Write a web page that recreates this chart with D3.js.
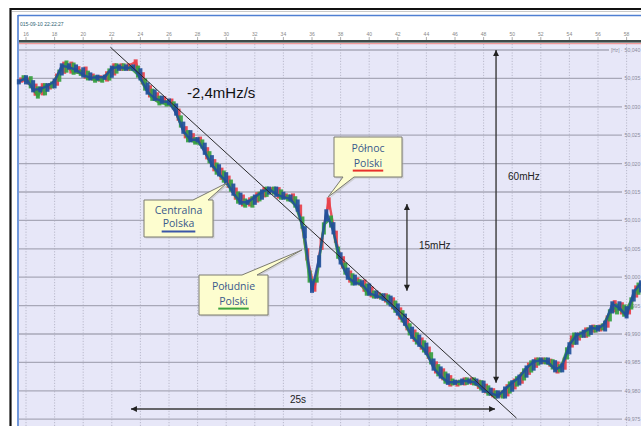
<!DOCTYPE html>
<html><head><meta charset="utf-8">
<script src="https://cdn.jsdelivr.net/npm/d3@7"></script>
<style>body{margin:0;background:#fff;overflow:hidden}svg{display:block}</style>
</head><body>
<svg id="c" width="641" height="426"></svg>
<script>
// ---------------- DATA ----------------
const dateLabel = "015-09-10 22:22:27";
const sampleStart = 15.5;   // s
const sampleStep = 0.5;     // s
const timeTicks = [16,18,20,22,24,26,28,30,32,34,36,38,40,42,44,46,48,50,52,54,56,58];
// frequency ticks as mHz deviation from 50 Hz
const freqTicks = [40,35,30,25,20,15,10,5,0,-5,-10,-15,-20,-25];
// Central Poland (blue), mHz deviation from 50 Hz
const blueSeries = [34.4,35.1,33.0,33.1,33.7,34.5,37.2,37.0,36.5,35.6,35.1,35.2,35.2,36.8,37.0,36.8,37.0,35.1,32.6,31.5,31.0,30.8,28.9,25.7,24.2,24.2,22.0,19.8,18.2,16.8,14.8,13.2,13.2,14.1,15.0,15.5,14.6,14.1,13.8,12.0,7.3,-2.3,3.4,11.5,8.0,2.7,0.0,-1.0,-1.2,-2.8,-3.3,-3.7,-4.7,-6.3,-8.1,-10.4,-11.8,-13.2,-16.0,-17.4,-18.5,-18.5,-18.3,-18.3,-18.6,-19.9,-20.4,-20.9,-19.7,-18.6,-17.6,-16.0,-14.9,-14.6,-14.9,-16.3,-15.6,-11.9,-10.2,-9.7,-8.9,-9.1,-8.1,-4.7,-5.4,-6.8,-2.6,-1.0];
// Northern Poland (red)
const redSeries = [34.7,34.4,32.4,33.7,33.5,35.4,37.5,36.3,36.7,35.4,35.1,34.9,35.8,37.2,36.8,37.2,37.9,34.4,32.1,31.4,31.0,30.5,28.0,24.9,24.3,24.0,21.2,19.1,17.6,16.2,14.1,12.9,13.6,14.5,15.4,15.4,14.3,14.3,13.6,11.1,3.4,-2.1,6.5,13.6,6.5,2.0,-0.5,-0.8,-2.1,-3.1,-3.3,-4.0,-5.2,-7.0,-8.9,-10.9,-12.3,-13.9,-16.5,-17.7,-18.8,-18.6,-18.1,-18.5,-19.2,-20.0,-20.7,-20.6,-19.3,-18.3,-17.2,-15.5,-14.6,-14.8,-15.3,-16.5,-14.6,-10.7,-10.2,-9.3,-8.8,-9.1,-7.2,-4.5,-6.1,-6.1,-1.9,-0.8];
// Southern Poland (green)
const greenSeries = [35.1,33.7,31.9,33.7,34.0,36.1,37.7,36.1,35.9,35.1,34.7,34.7,36.3,37.2,36.8,36.8,35.6,33.3,31.5,30.7,30.5,30.0,26.8,24.2,23.8,23.1,20.5,18.5,17.1,15.5,13.4,12.7,13.8,14.6,15.5,15.0,14.1,13.8,12.7,9.0,-0.5,-0.5,9.2,10.4,3.7,0.9,-1.0,-0.8,-2.8,-3.3,-3.5,-4.4,-5.8,-7.5,-9.8,-11.4,-12.8,-14.9,-17.0,-18.3,-18.6,-18.5,-18.1,-18.6,-19.5,-20.4,-20.9,-20.4,-18.8,-17.9,-16.5,-15.1,-14.6,-14.9,-15.8,-16.3,-12.8,-10.2,-10.0,-9.3,-8.9,-8.6,-6.1,-5.1,-6.5,-4.0,-1.4,-1.0];
const seriesNames = ["Północ Polski","Południe Polski","Centralna Polska"];
const seriesTimeOffsets = [0.17,0.33,0];
// annotations (time s, mHz)
const trendLine = [[21.9,40.5],[50.3,-24.8]];
const trendLabel = "-2,4mHz/s";
const dropArrow = {t:48.87, from:40, to:-18.6, label:"60mHz"};
const swingArrow = {t:42.64, from:12.9, to:-2.4, label:"15mHz"};
const timeArrow = {f:-23.2, from:23.34, to:48.8, label:"25s"};
const callouts = [
  {lines:["Centralna","Polska"], tip:[30.06,16.6], ul:"#3b56a8"},
  {lines:["Północ","Polski"], tip:[37.12,14.1], ul:"#e8302a"},
  {lines:["Południe","Polski"], tip:[35.3,4.8], ul:"#3ca33c"}
];

// ---------------- DRAW ----------------
const W=641,H=426;
const svg=d3.select('#c');
const x=d3.scaleLinear().domain([16,58]).range([26,626.6]);
const y=d3.scaleLinear().domain([40,-25]).range([50,419.2]);

svg.append('rect').attr('width',W).attr('height',H).attr('fill','#fff');
svg.append('rect').attr('x',19).attr('y',44).attr('width',W-19).attr('height',H-44).attr('fill','#e7e7f8');
svg.append('rect').attr('x',19).attr('y',40).attr('width',W-19).attr('height',2.6).attr('fill','#3d4b49');
svg.append('line').attr('x1',19).attr('x2',W).attr('y1',43.6).attr('y2',43.6).attr('stroke','#f09a9a').attr('stroke-width',1.2);
svg.append('line').attr('x1',10.5).attr('x2',10.5).attr('y1',8).attr('y2',H).attr('stroke','#111').attr('stroke-width',2.2);
svg.append('line').attr('x1',10).attr('x2',W).attr('y1',9).attr('y2',9).attr('stroke','#111').attr('stroke-width',2.2);
svg.append('line').attr('x1',12).attr('x2',W).attr('y1',11.5).attr('y2',11.5).attr('stroke','#bbb').attr('stroke-width',0.8);
svg.append('line').attr('x1',18).attr('x2',18).attr('y1',15).attr('y2',H).attr('stroke','#4f7fd2').attr('stroke-width',1.6);
svg.append('line').attr('x1',18).attr('x2',W).attr('y1',15.5).attr('y2',15.5).attr('stroke','#4f7fd2').attr('stroke-width',1.6);

svg.append('text').attr('x',20).attr('y',26).attr('font-family','Liberation Sans, Arial').attr('font-size',5).attr('fill','#2e6272').text(dateLabel);

const ax=svg.append('g');
timeTicks.forEach(t=>{
  ax.append('text').attr('x',x(t)).attr('y',35.5).attr('text-anchor','middle').attr('font-family','Liberation Sans, Arial').attr('font-size',5).attr('fill','#888').text(t);
  ax.append('line').attr('x1',x(t)).attr('x2',x(t)).attr('y1',37).attr('y2',40).attr('stroke','#999').attr('stroke-width',0.8);
  ax.append('line').attr('x1',x(t)).attr('x2',x(t)).attr('y1',44).attr('y2',H).attr('stroke','#b4b4c6').attr('stroke-width',0.9).attr('stroke-dasharray','1.2,1.6');
});
freqTicks.forEach((f,i)=>{
  svg.append('line').attr('x1',19).attr('x2',i===0?609:622).attr('y1',y(f)).attr('y2',y(f)).attr('stroke','#a8a8b8').attr('stroke-width',1.3);
  svg.append('text').attr('x',624.5).attr('y',y(f)+2).attr('font-family','Liberation Sans, Arial').attr('font-size',5.2).attr('fill','#8c8c9c').text((50+f/1000).toFixed(3).replace('.',','));
});
svg.append('text').attr('x',611).attr('y',y(40)+2).attr('font-family','Liberation Sans, Arial').attr('font-size',4.8).attr('fill','#8c8c9c').text('[Hz] ·');

const seriesList=[
  {vals:redSeries, color:'#e8404a', off:seriesTimeOffsets[0]},
  {vals:greenSeries, color:'#36a040', off:seriesTimeOffsets[1]},
  {vals:blueSeries, color:'#22509a', off:seriesTimeOffsets[2]}
];
const plot=svg.append('g');
seriesList.forEach(s=>{
  const pts=s.vals.map((v,i)=>[sampleStart+sampleStep*i+s.off, v]);
  plot.append('path').attr('d',d3.line().x(d=>x(d[0])).y(d=>y(d[1]))(pts))
    .attr('fill','none').attr('stroke',s.color).attr('stroke-width',2.4).attr('opacity',0.9);
  pts.forEach((p,i)=>{
    const v0=i>0?s.vals[i-1]:p[1], v1=p[1];
    const yc=y(v1), yp=y(v0);
    const ext=Math.min(Math.abs(yp-yc),7)*(yp>yc?1:-1);
    const ya=Math.min(yc,yc+ext)-2.6, yb=Math.max(yc,yc+ext)+2.6;
    plot.append('rect').attr('x',x(p[0])-2).attr('width',4)
      .attr('y',ya).attr('height',yb-ya)
      .attr('fill',s.color).attr('opacity',0.92);
  });
});

svg.append('line').attr('x1',x(trendLine[0][0])).attr('y1',y(trendLine[0][1]))
  .attr('x2',x(trendLine[1][0])).attr('y2',y(trendLine[1][1]))
  .attr('stroke','#2a2a2a').attr('stroke-width',1);
svg.append('text').attr('x',187).attr('y',98).attr('font-family','Liberation Sans, Arial').attr('font-size',15).attr('fill','#111').text(trendLabel);

const defs=svg.append('defs');
defs.append('marker').attr('id','ah').attr('viewBox','0 0 10 10').attr('refX',10).attr('refY',5)
  .attr('markerWidth',7).attr('markerHeight',6).attr('markerUnits','userSpaceOnUse').attr('orient','auto-start-reverse')
  .append('path').attr('d','M0,0 L10,5 L0,10 z').attr('fill','#222');
function arrow(x1,y1,x2,y2){
  svg.append('line').attr('x1',x1).attr('y1',y1).attr('x2',x2).attr('y2',y2)
    .attr('stroke','#3a3a3a').attr('stroke-width',1.4)
    .attr('marker-start','url(#ah)').attr('marker-end','url(#ah)');
}
arrow(x(dropArrow.t),y(dropArrow.from),x(dropArrow.t),y(dropArrow.to));
arrow(x(swingArrow.t),y(swingArrow.from),x(swingArrow.t),y(swingArrow.to));
arrow(x(timeArrow.from),y(timeArrow.f),x(timeArrow.to),y(timeArrow.f));
const lab=(tx,ty,s)=>svg.append('text').attr('x',tx).attr('y',ty).attr('font-family','Liberation Sans, Arial').attr('font-size',10).attr('fill','#222').text(s);
lab(x(dropArrow.t)+12, 180, dropArrow.label);
lab(x(swingArrow.t)+12, 249, swingArrow.label);
lab(290, 403, timeArrow.label);

const boxes=[
  {x0:144,y0:200,x1:213,y1:237, side:'top', b1:193, b2:208},
  {x0:334,y0:137,x1:402,y1:177, side:'bottom', b1:343, b2:354},
  {x0:199,y0:275,x1:268,y1:315, side:'top', b1:242, b2:257}
];
callouts.forEach((c,i)=>{
  const b=boxes[i]; const tx=x(c.tip[0]), ty=y(c.tip[1]);
  let d;
  if(b.side==='top') d=`M${b.x0},${b.y0} L${b.b1},${b.y0} L${tx},${ty} L${b.b2},${b.y0} L${b.x1},${b.y0} L${b.x1},${b.y1} L${b.x0},${b.y1} Z`;
  else d=`M${b.x0},${b.y0} L${b.x1},${b.y0} L${b.x1},${b.y1} L${b.b2},${b.y1} L${tx},${ty} L${b.b1},${b.y1} L${b.x0},${b.y1} Z`;
  svg.append('path').attr('d',d).attr('fill','#b8b8b0').attr('transform','translate(1.5,1.5)').attr('opacity',0.5);
  svg.append('path').attr('d',d).attr('fill','#fdfdcf').attr('stroke','#7a7a70').attr('stroke-width',1);
  const cx=(b.x0+b.x1)/2, h=b.y1-b.y0;
  svg.append('text').attr('x',cx).attr('y',b.y0+h*0.38).attr('text-anchor','middle')
    .attr('font-family','Open Sans, Noto Sans, sans-serif').attr('font-size',10.5).attr('fill','#3a5a8c').text(c.lines[0]);
  const t2=svg.append('text').attr('x',cx).attr('y',b.y0+h*0.74).attr('text-anchor','middle')
    .attr('font-family','Open Sans, Noto Sans, sans-serif').attr('font-size',10.5).attr('fill','#3a5a8c').text(c.lines[1]);
  const w=t2.node().getComputedTextLength();
  svg.append('line').attr('x1',cx-w/2-1).attr('x2',cx+w/2+1).attr('y1',b.y0+h*0.74+4).attr('y2',b.y0+h*0.74+4)
    .attr('stroke',c.ul).attr('stroke-width',2);
});
</script>
</body></html>
